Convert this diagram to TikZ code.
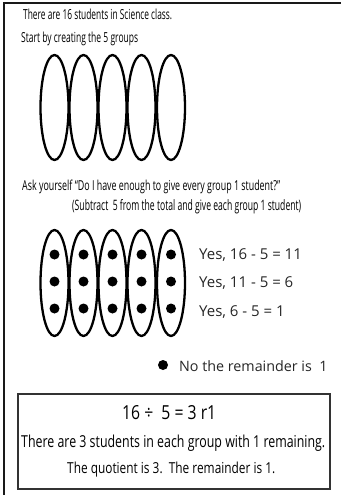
\documentclass[tikz,border=0pt]{standalone}
\usepackage{fontspec}
\setmainfont{Open Sans}
\usetikzlibrary{shapes.geometric}
\newcommand\fitt[3]{\resizebox{#1pt}{#2pt}{#3}}
\begin{document}
\begin{tikzpicture}[x=1pt,y=-1pt,
  grp/.style={ellipse,draw,line width=2.3pt,minimum width=28pt,minimum height=105pt,inner sep=0pt},
  stud/.style={circle,fill=black,minimum size=10pt,inner sep=0pt},
  cond/.style={anchor=base west,inner sep=0pt,text=black},
  yes/.style={anchor=base west,inner sep=0pt,font=\fontsize{14.3}{17}\selectfont,text=black!85},
  yesw/.style={yes,font=\fontsize{15}{17}\selectfont},
  frame/.style={line width=2pt,draw=black!90},
  resbox/.style={draw=black!80,line width=1.4pt,minimum width=312pt,minimum height=95pt,inner sep=0pt}]
\useasboundingbox (0,0) rectangle (341,495);
\coordinate (fl) at (4,495);
\coordinate (fc) at (4,3);
\coordinate (fr) at (341,3);
\draw[frame] (fl) -- (fc) -- (fr);
% top texts
\node[cond] (t1) at (23,20) {\fitt{149}{10.5}{There are 16 students in Science class.}};
\node[cond] (t2) at (21,43) {\fitt{117}{10.5}{Start by creating the 5 groups}};
% empty groups
\foreach \i/\x in {1/54.5,2/83.5,3/112.5,4/141.5,5/171}{
  \node[grp] (g\i) at (\x,107.5) {};
}
\node[cond] (t3) at (22,190) {\fitt{258}{10.5}{Ask yourself “Do I have enough to give every group 1 student?”}};
\node[cond] (t4) at (72,210) {\fitt{229}{11}{(Subtract\ \ 5 from the total and give each group 1 student)}};
% filled groups
\foreach \i/\x in {1/54.5,2/83.5,3/112.5,4/141.5,5/171}{
  \node[grp,minimum height=106pt] (h\i) at (\x,283) {};
  \node[stud] (d\i a) at (\x,254.5) {};
  \node[stud] (d\i b) at (\x,281.5) {};
  \node[stud] (d\i c) at (\x,308.5) {};
}
\node[yesw] (y1) at (199,259.5) {Yes, 16 - 5 = 11};
\node[yesw] (y2) at (199,287.5) {Yes, 11 - 5 = 6};
\node[yesw] (y3) at (199,316.5) {Yes, 6 - 5 = 1};
\node[stud] (rem) at (163,365) {};
\node[yes] (y4) at (179,371.5) {No the remainder is\ \ 1};
% result box
\node[resbox] (box) at (174,441.5) {};
\node[cond] (b1) at (122,419) {\fitt{94}{14}{16 ÷\ \ 5 = 3 r1}};
\node[cond] (b2) at (21,447) {\fitt{304}{12.5}{There are 3 students in each group with 1 remaining.}};
\node[cond] (b3) at (67,473) {\fitt{208}{11.5}{The quotient is 3.\ \ The remainder is 1.}};
\end{tikzpicture}
\end{document}
